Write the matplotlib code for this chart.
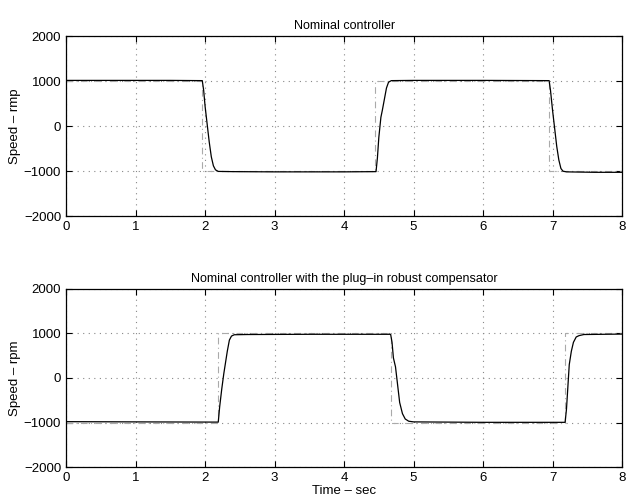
import matplotlib
matplotlib.use('Agg')
import matplotlib.pyplot as plt

plt.rcParams['font.family'] = ['Liberation Sans', 'DejaVu Sans']

# speed command (square wave) and measured response, nominal controller
ref_top_t = [0, 1.95, 1.95, 4.45, 4.45, 6.95, 6.95, 8.0]
ref_top_v = [1000, 1000, -1000, -1000, 1000, 1000, -1000, -1000]
resp_top_t = [0, 1.5, 1.96, 1.98, 2.00, 2.03, 2.06, 2.09, 2.12, 2.15, 2.19, 2.4, 3.0, 4.0, 4.46,
              4.48, 4.50, 4.53, 4.55, 4.58, 4.61, 4.64, 4.68, 5.0, 6.0, 6.95, 6.97, 7.00, 7.03,
              7.06, 7.09, 7.12, 7.15, 7.2, 7.6, 8.0]
resp_top_v = [1020, 1020, 1015, 800, 450, 50, -350, -680, -880, -970, -1005, -1010, -1015, -1015, -1010,
              -700, -250, 200, 350, 600, 850, 980, 1015, 1020, 1020, 1015, 800, 350, -50,
              -450, -750, -940, -1000, -1015, -1025, -1025]

# same test with the plug-in robust compensator
ref_bot_t = [0, 2.18, 2.18, 4.68, 4.68, 7.18, 7.18, 8.0]
ref_bot_v = [-1000, -1000, 1000, 1000, -1000, -1000, 1000, 1000]
resp_bot_t = [0, 1.0, 2.19, 2.21, 2.24, 2.27, 2.29, 2.32, 2.35, 2.38, 2.42, 2.6, 3.5, 4.67,
              4.69, 4.71, 4.74, 4.77, 4.80, 4.84, 4.88, 4.93, 5.0, 6.0, 7.18, 7.20, 7.22,
              7.24, 7.27, 7.30, 7.34, 7.38, 7.45, 8.0]
resp_bot_v = [-980, -985, -990, -650, -250, 100, 300, 600, 850, 940, 970, 975, 980, 980,
              800, 450, 250, -150, -550, -800, -920, -970, -985, -995, -995, -700, -200,
              300, 600, 800, 920, 950, 975, 985]

panels = [
    ("Nominal controller", "Speed \u2013 rmp", ref_top_t, ref_top_v, resp_top_t, resp_top_v),
    ("Nominal controller with the plug\u2013in robust compensator", "Speed \u2013 rpm",
     ref_bot_t, ref_bot_v, resp_bot_t, resp_bot_v),
]
boxes = [[0.105, 0.566, 0.884, 0.361], [0.105, 0.062, 0.884, 0.358]]

fig = plt.figure(figsize=(6.29, 4.98), dpi=100, facecolor='white')
for (title, ylab, rt, rv, st, sv), box in zip(panels, boxes):
    ax = fig.add_axes(box)
    ax.plot(rt, rv, color='#aaaaaa', lw=0.8, ls=(0, (6, 3, 1, 3)))
    ax.plot(st, sv, color='black', lw=0.9)
    ax.set_xlim(0, 8)
    ax.set_ylim(-2000, 2000)
    ax.set_xticks(range(0, 9))
    ax.set_yticks([-2000, -1000, 0, 1000, 2000])
    ax.grid(True, color='#888888', ls=(0, (1, 4)), lw=0.8)
    ax.tick_params(direction='in', length=4, labelsize=9.5, top=True, right=True)
    ax.set_title(title, fontsize=9, pad=5)
    ax.set_ylabel(ylab, fontsize=9.5, labelpad=2)
    for s in ax.spines.values():
        s.set_linewidth(0.9)
ax.set_xlabel("Time \u2013 sec", fontsize=9.5, labelpad=1)

fig.savefig('out.png', dpi=100, facecolor='white')
